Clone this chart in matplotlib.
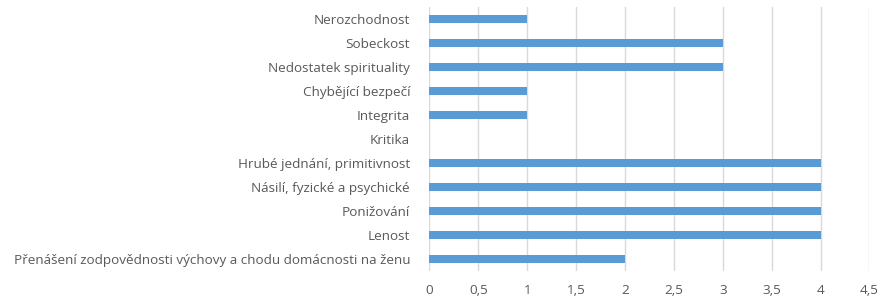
import matplotlib
matplotlib.use('Agg')
import matplotlib.pyplot as plt
from matplotlib.ticker import FuncFormatter

plt.rcParams['font.family'] = ['Open Sans', 'DejaVu Sans']

categories = [
    'Nerozchodnost',
    'Sobeckost',
    'Nedostatek spirituality',
    'Chybějící bezpečí',
    'Integrita',
    'Kritika',
    'Hrubé jednání, primitivnost',
    'Násilí, fyzické a psychické',
    'Ponižování',
    'Lenost',
    'Přenášení zodpovědnosti výchovy a chodu domácnosti na ženu',
]
values = [1, 3, 3, 1, 1, 0, 4, 4, 4, 4, 2]

bar_color = '#5B9BD5'
text_color = '#595959'
grid_color = '#D9D9D9'

fig = plt.figure(figsize=(8.81, 3.0), dpi=100)
ax = fig.add_axes([0.4875, 0.0957, 0.4994, 0.88])

y = list(range(len(categories)))
ax.barh(y, values, height=0.34, color=bar_color, zorder=3)
ax.set_yticks(y)
ax.set_yticklabels(categories)
ax.set_ylim(len(categories) - 0.5, -0.5)

ax.set_xlim(0, 4.5)
ax.set_xticks([i * 0.5 for i in range(10)])
ax.xaxis.set_major_formatter(FuncFormatter(lambda v, p: ('%g' % v).replace('.', ',')))
ax.grid(axis='x', color=grid_color, linewidth=1, zorder=0)

for s in ax.spines.values():
    s.set_visible(False)
ax.tick_params(axis='both', length=0, labelsize=9.7, colors=text_color)
ax.tick_params(axis='y', pad=14)
ax.tick_params(axis='x', pad=9)

fig.savefig('out.png', dpi=100)
